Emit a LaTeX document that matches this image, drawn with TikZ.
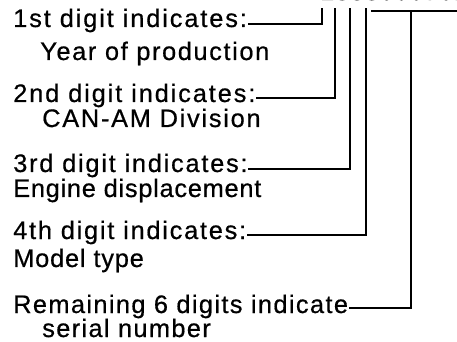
\documentclass[tikz,border=0pt]{standalone}
\usepackage{fontspec}
\setmainfont{Liberation Sans}[FakeBold=0.6]
\newcommand\lbl[2][4]{{\addfontfeature{LetterSpace=#1}#2}}
\begin{document}
\begin{tikzpicture}[x=0.75pt,y=-0.75pt,
  lab/.style={anchor=base west,inner sep=0pt,font=\fontsize{19pt}{22pt}\selectfont},
  conn/.style={line width=1.5pt,line cap=rect}]
\useasboundingbox (0,0) rectangle (457,342);
\clip (0,0) rectangle (457,342);
% serial number (cropped at top)
\node[lab] (num) at (320,0) {\lbl[3]{1388000701}};
% labels
\node[lab] (t1) at (13,27) {\lbl[7.5]{1st digit indicates:}};
\node[lab] (t1b) at (40,60) {\lbl[6.4]{Year of production}};
\node[lab] (t2) at (13,102) {\lbl[7.5]{2nd digit indicates:}};
\node[lab] (t2b) at (42,127) {\lbl[6.9]{CAN-AM Division}};
\node[lab] (t3) at (13,172) {\lbl[7]{3rd digit indicates:}};
\node[lab] (t3b) at (13,197) {\lbl[3]{Engine displacement}};
\node[lab] (t4) at (13,239) {\lbl[7]{4th digit indicates:}};
\node[lab] (t4b) at (13,267) {\lbl[3.3]{Model type}};
\node[lab] (t5) at (13,313) {\lbl[5.5]{Remaining 6 digits indicate}};
\node[lab] (t5b) at (42,337) {\lbl[5.4]{serial number}};
% digit tops
\coordinate (d1) at (322,9);
\coordinate (d2) at (335,9);
\coordinate (d3) at (350,9);
\coordinate (d4) at (366,9);
\coordinate (tl) at (372,11);
\coordinate (tr) at (460,11);
\coordinate (tm) at (411,11);
% connectors
\draw[conn] ([xshift=1pt,yshift=2.3pt]t1.base east) -| (d1);
\draw[conn] ([xshift=1pt,yshift=3pt]t2.base east) -| (d2);
\draw[conn] ([xshift=1pt,yshift=2.3pt]t3.base east) -| (d3);
\draw[conn] ([xshift=1pt,yshift=3pt]t4.base east) -| (d4);
\draw[conn] (tl) -- (tr);
\draw[conn] ([xshift=1pt,yshift=3.7pt]t5.base east) -| (tm);
\end{tikzpicture}
\end{document}
